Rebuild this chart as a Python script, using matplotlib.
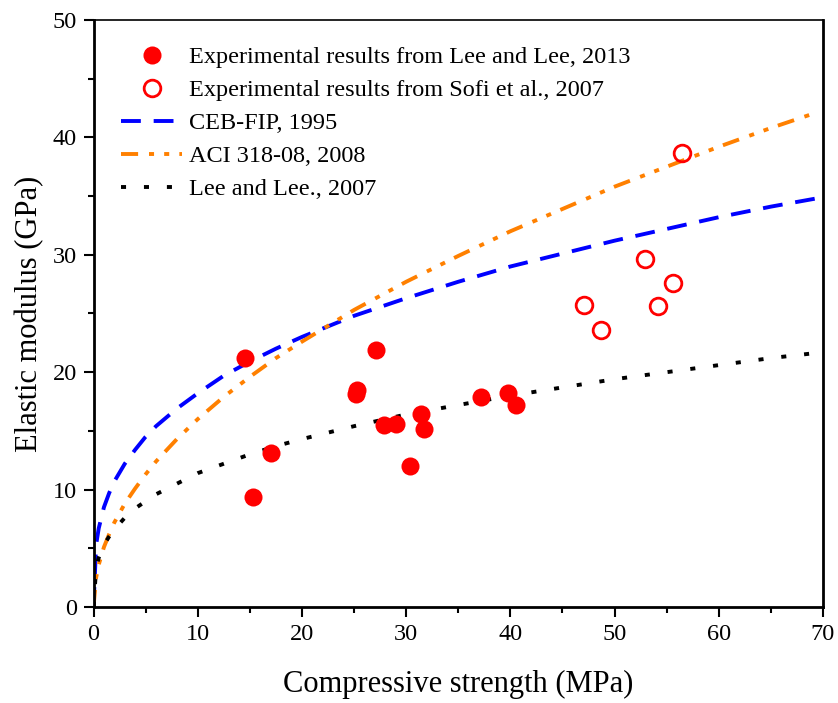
import matplotlib
matplotlib.use("Agg")
import matplotlib.pyplot as plt
from matplotlib.ticker import MultipleLocator

plt.rcParams['font.family'] = ['Liberation Serif', 'DejaVu Serif']

# Experimental results (Lee and Lee, 2013)
lee2013_fc = [14.5, 15.3, 17.0, 27.1, 25.3, 25.2, 27.9, 29.0, 30.4, 31.4, 31.7, 37.2, 39.8, 40.5]
lee2013_E = [21.2, 9.4, 13.1, 21.9, 18.5, 18.1, 15.5, 15.6, 12.0, 16.4, 15.2, 17.9, 18.2, 17.2]

# Experimental results (Sofi et al., 2007)
sofi_fc = [56.5, 52.9, 55.6, 47.1, 54.2, 48.7]
sofi_E = [38.7, 29.6, 27.6, 25.7, 25.6, 23.6]

# Model curves
curve_fc = [0, 0.25, 0.5, 1, 1.5, 2, 3, 4, 5, 6, 8, 10, 12.5, 15, 17.5, 20, 25, 30, 35, 40, 45, 50, 55, 60, 65, 70]
ceb_E = [0, 5.3, 6.7, 8.5, 9.7, 10.7, 12.2, 13.4, 14.5, 15.4, 16.9, 18.2, 19.7, 20.9, 22.0, 23.0,
         24.8, 26.3, 27.7, 29.0, 30.1, 31.2, 32.2, 33.2, 34.1, 34.9]
lee2007_E = [0, 3.3, 4.2, 5.3, 6.0, 6.6, 7.6, 8.4, 9.0, 9.6, 10.5, 11.4, 12.2, 13.0, 13.7, 14.3,
             15.4, 16.4, 17.2, 18.0, 18.7, 19.4, 20.0, 20.6, 21.2, 21.7]
aci_fc = [0, 0.25, 0.5, 1, 1.5, 2, 3, 4, 5, 6, 8, 10, 12.5, 15, 17.5, 20, 25, 30, 35, 40, 45, 50, 55, 60, 65, 69]
aci_E = [0, 2.5, 3.6, 5.1, 6.2, 7.2, 8.8, 10.1, 11.3, 12.4, 14.3, 16.0, 17.9, 19.6, 21.2, 22.6,
         25.3, 27.7, 29.9, 32.0, 33.9, 35.8, 37.5, 39.2, 40.8, 42.0]

labels = ["Experimental results from Lee and Lee, 2013",
          "Experimental results from Sofi et al., 2007",
          "CEB-FIP, 1995",
          "ACI 318-08, 2008",
          "Lee and Lee., 2007"]

fig = plt.figure(figsize=(8.38, 7.03), dpi=100)
ax = fig.add_axes([0.1116, 0.1366, 0.8705, 0.835])

ax.plot(lee2013_fc, lee2013_E, 'o', color='red', markersize=13, markeredgewidth=0, label=labels[0], zorder=5)
ax.plot(sofi_fc, sofi_E, 'o', markerfacecolor='none', markeredgecolor='red', markersize=12,
        markeredgewidth=2, label=labels[1], zorder=5)
ax.plot(curve_fc, ceb_E, color='#0000ff', lw=2.8, dashes=(5.1, 3.3), label=labels[2])
ax.plot(aci_fc, aci_E, color='#ff8000', lw=2.8, dashes=(4.4, 2.8, 1.3, 2.6, 1.3, 2.6), label=labels[3])
ax.plot(curve_fc, lee2007_E, color='black', lw=2.8, dashes=(1.3, 4.6), label=labels[4])

ax.set_xlim(0, 70)
ax.set_ylim(0, 50)
ax.xaxis.set_major_locator(MultipleLocator(10))
ax.xaxis.set_minor_locator(MultipleLocator(5))
ax.yaxis.set_major_locator(MultipleLocator(10))
ax.yaxis.set_minor_locator(MultipleLocator(5))
ax.tick_params(which='major', direction='out', length=7, width=1.5, labelsize=17.5, pad=5)
ax.tick_params(which='minor', direction='out', length=4, width=1.5)
ax.tick_params(top=False, right=False, which='both')
for s in ['left', 'bottom']:
    ax.spines[s].set_linewidth(2)
ax.spines['right'].set_linewidth(2)
ax.spines['top'].set_linewidth(1.2)

ax.set_xlabel("Compressive strength (MPa)", fontsize=22, labelpad=18)
ax.set_ylabel("Elastic modulus (GPa)", fontsize=22, labelpad=6)

ax.legend(loc='upper left', bbox_to_anchor=(0.038, 0.955), frameon=False, fontsize=17.5,
          handlelength=2.5, handletextpad=0.3, labelspacing=0.45, borderpad=0, borderaxespad=0)

fig.savefig("out.png", dpi=100)
